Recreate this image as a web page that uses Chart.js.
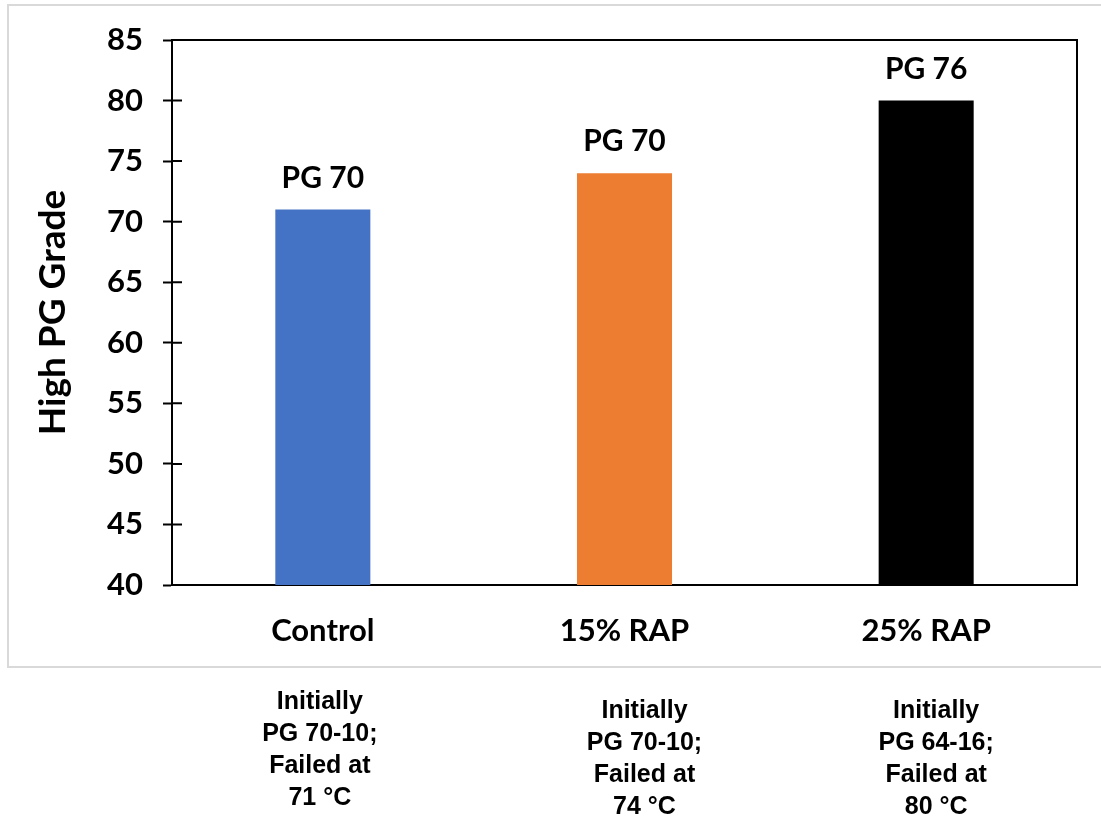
<!DOCTYPE html>
<html>
<head>
<meta charset="utf-8">
<script src="https://cdn.jsdelivr.net/npm/chart.js@4"></script>
<style>
  html, body { margin: 0; padding: 0; background: #fff; }
  #pgChart { display: block; }
</style>
</head>
<body>
<canvas id="pgChart" width="1101" height="816"></canvas>
<script>
// chart values
const mixes = ['Control', '15% RAP', '25% RAP'];
const highPG = [71, 74, 80];
const pgLabels = ['PG 70', 'PG 70', 'PG 76'];
const barColors = ['#4472C4', '#ED7D31', '#000000'];
const notes = [
    ['Initially', 'PG 70-10;', 'Failed at', '71 °C'],
    ['Initially', 'PG 70-10;', 'Failed at', '74 °C'],
    ['Initially', 'PG 64-16;', 'Failed at', '80 °C']
];

// where the notes sit under the box (shift from category centre, top line centre)
const noteShift = [-3, 20, 10];
const noteTop = [702, 711, 711];

const mainFont = 'Lato, "Open Sans", sans-serif';

// light grey frame round the chart, plus the top and right sides of the plot
const framePlugin = {
    id: 'frame',
    beforeDraw(chart) {
        const ctx = chart.ctx;
        ctx.save();
        ctx.fillStyle = '#fff';
        ctx.fillRect(0, 0, chart.width, chart.height);
        ctx.strokeStyle = '#d9d9d9';
        ctx.lineWidth = 2;
        ctx.strokeRect(8, 5, chart.width + 10, 662);
        ctx.restore();
    },
    afterDraw(chart) {
        const ctx = chart.ctx;
        const a = chart.chartArea;
        const y = chart.scales.y;
        ctx.save();
        ctx.strokeStyle = '#000';
        ctx.lineWidth = 2;
        ctx.beginPath();
        ctx.moveTo(a.left, a.top);
        ctx.lineTo(a.right, a.top);
        ctx.lineTo(a.right, a.bottom);
        ctx.stroke();
        // inner half of the crossing tick marks
        ctx.beginPath();
        y.ticks.forEach(t => {
            const py = y.getPixelForValue(t.value);
            ctx.moveTo(a.left, py);
            ctx.lineTo(a.left + 10, py);
        });
        ctx.stroke();
        ctx.restore();
    }
};

// "PG xx" over each bar and the notes under the box
const labelPlugin = {
    id: 'barLabels',
    afterDatasetsDraw(chart) {
        const ctx = chart.ctx;
        const meta = chart.getDatasetMeta(0);
        ctx.save();
        ctx.fillStyle = '#000';
        ctx.textAlign = 'center';
        ctx.textBaseline = 'alphabetic';
        ctx.font = 'bold 30px ' + mainFont;
        meta.data.forEach((bar, i) => {
            ctx.fillText(pgLabels[i], bar.x, bar.y - 22);
        });

        ctx.font = 'bold 25px "Liberation Sans", Arial, sans-serif';
        ctx.textBaseline = 'middle';
        meta.data.forEach((bar, i) => {
            notes[i].forEach((line, j) => {
                ctx.fillText(line, bar.x + noteShift[i], noteTop[i] + j * 32);
            });
        });
        ctx.restore();
    }
};

new Chart(document.getElementById('pgChart'), {
    type: 'bar',
    data: {
        labels: mixes,
        datasets: [{
            data: highPG,
            backgroundColor: barColors,
            borderWidth: 0,
            categoryPercentage: 1,
            barPercentage: 0.315
        }]
    },
    options: {
        responsive: false,
        animation: false,
        devicePixelRatio: 1,
        layout: {
            padding: { left: 0, top: 40, right: 24, bottom: 161 }
        },
        plugins: {
            legend: { display: false },
            tooltip: { enabled: false }
        },
        scales: {
            x: {
                afterFit(scale) { scale.height = 70; },
                grid: { display: false },
                border: { display: true, color: '#000', width: 2 },
                ticks: {
                    color: '#000',
                    padding: 19,
                    font: { family: mainFont, size: 31, weight: 'bold' }
                }
            },
            y: {
                min: 40,
                max: 85,
                afterFit(scale) { scale.width = 172; },
                ticks: {
                    stepSize: 5,
                    color: '#000',
                    padding: 20,
                    font: { family: mainFont, size: 31, weight: 'bold' }
                },
                grid: {
                    drawOnChartArea: false,
                    drawTicks: true,
                    tickLength: 9,
                    tickWidth: 2,
                    tickColor: '#000'
                },
                border: { display: true, color: '#000', width: 2 },
                title: {
                    display: true,
                    text: 'High PG Grade',
                    color: '#000',
                    padding: { top: 31, bottom: 0 },
                    font: { family: mainFont, size: 37, weight: 'bold' }
                }
            }
        }
    },
    plugins: [framePlugin, labelPlugin]
});
</script>
</body>
</html>
